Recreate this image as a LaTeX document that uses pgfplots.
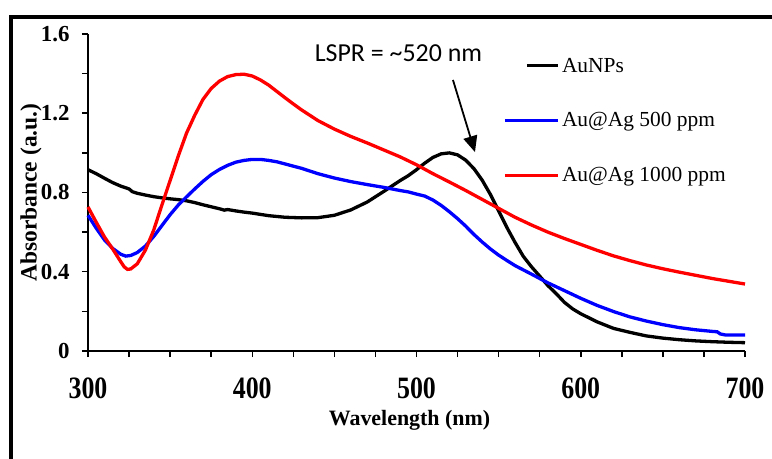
\documentclass[border=0pt]{standalone}
\usepackage{fontspec}
\setmainfont{Liberation Serif}
\newfontfamily\calibri{Carlito}
\usepackage{pgfplots}
\pgfplotsset{compat=1.18}
\usetikzlibrary{arrows.meta}

% spectra
\pgfplotstableread{
x y
300 0.915
305 0.895
310 0.872
315 0.850
320 0.832
325 0.818
327 0.804
330 0.796
335 0.787
340 0.779
345 0.773
350 0.768
355 0.764
360 0.758
365 0.749
370 0.738
375 0.728
380 0.718
383 0.711
385 0.714
390 0.707
395 0.701
400 0.696
410 0.683
420 0.675
430 0.672
440 0.673
450 0.685
460 0.712
470 0.752
480 0.805
490 0.860
495 0.885
500 0.915
505 0.948
510 0.977
515 0.995
520 1.000
525 0.990
530 0.963
535 0.920
540 0.862
545 0.790
550 0.707
555 0.624
560 0.548
565 0.478
570 0.425
575 0.378
580 0.330
585 0.290
590 0.246
595 0.213
600 0.188
610 0.147
620 0.114
630 0.094
640 0.076
650 0.065
660 0.057
670 0.051
680 0.047
690 0.044
700 0.042
}\aunps

\pgfplotstableread{
x y
300 0.685
305 0.620
310 0.561
315 0.518
320 0.488
323 0.479
326 0.482
330 0.497
335 0.530
340 0.578
345 0.633
350 0.688
355 0.737
360 0.778
365 0.818
370 0.856
375 0.890
380 0.916
385 0.937
390 0.953
395 0.962
400 0.967
405 0.967
410 0.962
415 0.955
420 0.944
430 0.922
440 0.895
450 0.873
460 0.855
470 0.840
480 0.826
490 0.810
495 0.803
500 0.792
505 0.782
510 0.762
515 0.735
520 0.703
525 0.668
530 0.630
535 0.588
540 0.550
545 0.515
550 0.484
555 0.457
560 0.431
570 0.388
580 0.344
590 0.305
600 0.266
610 0.230
620 0.199
630 0.172
640 0.151
650 0.133
660 0.118
670 0.107
680 0.099
683 0.097
685 0.086
688 0.081
700 0.081
}\agfive

\pgfplotstableread{
x y
300 0.727
305 0.650
310 0.576
315 0.515
320 0.450
322 0.425
324 0.412
326 0.414
330 0.440
335 0.510
340 0.610
345 0.737
350 0.861
355 0.985
360 1.100
365 1.190
370 1.270
375 1.325
380 1.362
385 1.385
390 1.395
395 1.397
400 1.388
405 1.368
410 1.342
415 1.310
420 1.278
425 1.247
430 1.217
440 1.163
450 1.120
460 1.083
470 1.050
480 1.015
490 0.980
500 0.940
510 0.895
520 0.853
530 0.810
540 0.765
550 0.720
560 0.675
570 0.636
580 0.600
590 0.568
600 0.538
610 0.508
620 0.480
630 0.456
640 0.434
650 0.415
660 0.398
670 0.382
680 0.366
690 0.352
700 0.338
}\agthousand

\begin{document}
\begin{tikzpicture}
\useasboundingbox (0,0) rectangle (772bp,459bp);
% outer frame (cut off at right and bottom in the original)
\draw[line width=4bp] (11bp,-5bp) -- (11bp,442bp) -- (780bp,442bp);

\begin{axis}[
    at={(88bp,108bp)}, anchor=south west,
    scale only axis, width=657bp, height=317bp,
    xmin=300, xmax=700, ymin=0, ymax=1.6,
    axis x line*=bottom, axis y line*=left,
    axis line style={line width=2bp},
    xtick={300,400,...,700},
    minor x tick num=3,
    ytick={0,0.4,0.8,1.2,1.6},
    yticklabels={0,0.4,0.8,1.2,1.6},
    minor y tick num=1,
    tick align=outside,
    major tick length=6bp, minor tick length=6bp,
    every tick/.style={line width=1.5bp, black},
    /pgf/number format/assume math mode=true,
    xticklabel style={font=\fontsize{26}{26}\selectfont\bfseries, yscale=1.2, yshift=-13.5bp},
    yticklabel style={font=\fontsize{23}{23}\selectfont\bfseries, xshift=-9bp},
    xlabel={Wavelength (nm)},
    ylabel={Absorbance (a.u.)},
    xlabel style={at={([xshift=-7bp,yshift=-69bp]axis description cs:0.5,0)}, anchor=center,
        font=\fontsize{22}{22}\selectfont\bfseries},
    ylabel style={at={([xshift=-57bp]axis description cs:0,0.5)}, anchor=center,
        font=\fontsize{23.5}{23.5}\selectfont\bfseries},
    legend style={draw=none, fill=none, inner sep=0pt,
        at={(0.6317,0.933)}, anchor=north west,
        font=\fontsize{21.5}{21.5}\selectfont, row sep=34bp,
        nodes={inner sep=2.5bp}},
    legend cell align=left,
    legend image code/.code={\draw[#1] (0bp,0bp) -- (53bp,0bp);},
    clip=false,
]
\addplot[black, line width=3.3bp,
    legend image code/.code={\draw[##1] (22bp,0bp) -- (53bp,0bp);}] table {\aunps};
\addlegendentry{AuNPs}
\addplot[blue, line width=3.3bp] table {\agfive};
\addlegendentry{Au@Ag 500 ppm}
\addplot[red, line width=3.3bp] table {\agthousand};
\addlegendentry{Au@Ag 1000 ppm}

\node[anchor=base, font=\calibri\fontsize{26}{26}\selectfont]
    at (axis cs:489,1.46) {LSPR = \textasciitilde520 nm};
\draw[line width=1.8bp, -{Triangle[length=16bp,width=14bp]}]
    (axis cs:522.2,1.368) -- (axis cs:535.6,1.004);
\end{axis}
\end{tikzpicture}
\end{document}
